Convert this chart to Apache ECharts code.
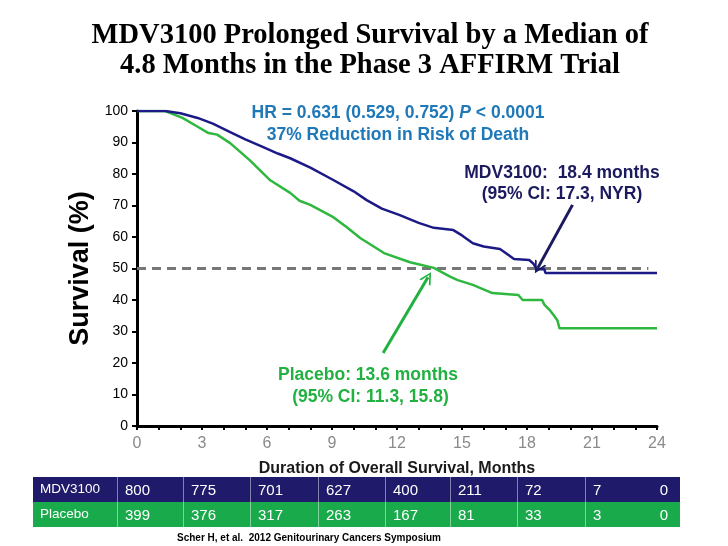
<!DOCTYPE html>
<html><head><meta charset="utf-8">
<script src="https://cdn.jsdelivr.net/npm/echarts@6/dist/echarts.min.js"></script>
<style>html,body{margin:0;padding:0;background:#fff}#c{width:728px;height:546px}</style>
</head><body><div id="c"></div>
<script>
// ---- DATA ----
const mdvCurve = [[0,100],[1.3,100],[2.0,99.3],[2.8,97.8],[3.5,96],[4.3,93.3],[5.0,91],[5.8,88.6],[6.5,86.5],[7.07,85],[8.0,82],[9.06,78.1],[10.0,74.5],[10.6,71.7],[11.3,69],[12.1,67],[13.0,64.5],[13.7,62.9],[14.6,62.2],[15.0,60.5],[15.5,58],[16.0,57],[16.75,56.2],[17.0,55],[17.4,53],[18.1,52.7],[18.3,51.5],[18.45,49.8],[18.8,49.8],[18.85,48.6],[24,48.6]];
const placeboCurve = [[0,100],[1.3,100],[2.1,97.8],[2.8,95],[3.3,93],[3.7,92.5],[4.3,89.8],[5.2,84.4],[6.15,78],[7.07,74],[7.5,71.5],[8.0,70.2],[9.06,66.3],[9.7,63],[10.3,59.7],[11.4,54.9],[12.6,52],[13.7,50.2],[14.45,47.4],[14.8,46.3],[15.5,44.8],[16.4,42.2],[17.6,41.6],[17.8,40],[18.7,40],[18.8,38.5],[19.05,36.8],[19.25,35],[19.4,33.6],[19.5,31],[24,31]];
const medianLevel = 50;
const medianLineEnd = 23.6;
const mdvArrow = [[20.1,70.2],[18.5,50.2]];
const placeboArrow = [[11.36,23.2],[13.43,47.2]];
const riskRowNames = ['MDV3100','Placebo'];
const mdvAtRisk = [800,775,701,627,400,211,72,7,0];
const placeboAtRisk = [399,376,317,263,167,81,33,3,0];
const xTicks = [0,3,6,9,12,15,18,21,24];
const yTicks = [0,10,20,30,40,50,60,70,80,90,100];

// ---- LAYOUT ----
const C_MDV = '#1c1a86', C_PLA = '#2eb83f';
const tableCols = [33,117,183,250,318,385,450,517,585,680];
const tableRows = [477,502,527];
const rowColors = ['#1f1a69','#19ab4b'];

const chart = echarts.init(document.getElementById('c'));
const graphic = [];
graphic.push({type:'text', x:370, y:21, style:{text:'MDV3100 Prolonged Survival by a Median of\n4.8 Months in the Phase 3 AFFIRM Trial', font:'bold 28.5px "Liberation Serif"', fill:'#000', textAlign:'center', lineHeight:30}});
graphic.push({type:'text', x:398, y:102, style:{text:'{a|HR = 0.631 (0.529, 0.752) }{i|P}{a| < 0.0001}\n{a|37% Reduction in Risk of Death}', textAlign:'center', rich:{a:{font:'bold 17.5px Arial', fill:'#1f78b8', lineHeight:22}, i:{font:'italic bold 17.5px Arial', fill:'#1f78b8', lineHeight:22}}}});
graphic.push({type:'text', x:562, y:163, style:{text:'MDV3100:  18.4 months\n(95% CI: 17.3, NYR)', font:'bold 17.5px Arial', fill:'#1c1a5e', textAlign:'center', lineHeight:21}});
graphic.push({type:'text', x:368, y:364, style:{text:'Placebo: 13.6 months\n (95% CI: 11.3, 15.8)', font:'bold 17.5px Arial', fill:'#22b140', textAlign:'center', lineHeight:22}});
// table
for (let r=0;r<2;r++){
  graphic.push({type:'rect', shape:{x:tableCols[0], y:tableRows[r], width:tableCols[tableCols.length-1]-tableCols[0], height:tableRows[r+1]-tableRows[r]}, style:{fill:rowColors[r]}});
}
for (let c=1;c<tableCols.length-1;c++){
  graphic.push({type:'line', shape:{x1:tableCols[c]+0.5, y1:tableRows[0], x2:tableCols[c]+0.5, y2:tableRows[2]}, style:{stroke:'rgba(255,255,255,0.45)', lineWidth:1}});
}
const rowsData = [mdvAtRisk, placeboAtRisk];
for (let r=0;r<2;r++){
  const cy = (tableRows[r]+tableRows[r+1])/2;
  graphic.push({type:'text', x:tableCols[0]+7, y:cy, style:{text:riskRowNames[r], font:'13.5px Arial', fill:'#fff', textVerticalAlign:'middle'}});
  rowsData[r].forEach((v,i)=>{
    const last = i===rowsData[r].length-1;
    graphic.push({type:'text', x: last ? tableCols[tableCols.length-1]-12 : tableCols[i+1]+8, y:cy+1, style:{text:String(v), font:'15px Arial', fill:'#fff', textVerticalAlign:'middle', textAlign: last?'right':'left'}});
  });
}
graphic.push({type:'text', x:177, y:533, style:{text:'Scher H, et al.  2012 Genitourinary Cancers Symposium', font:'bold 10px Arial', fill:'#000'}});

const chevron = 'path://M10,0 L20,14 L17,14 L10,4 L3,14 L0,14 Z';

chart.setOption({
  animation:false,
  grid:{left:137, right:71, top:111, bottom:120},
  xAxis:{type:'value', min:0, max:24, interval:3,
    axisLine:{lineStyle:{color:'#000', width:3}},
    axisTick:{show:true, length:4, lineStyle:{color:'#000', width:2}},
    minorTick:{show:true, splitNumber:3, length:4, lineStyle:{color:'#000', width:2}},
    splitLine:{show:false},
    axisLabel:{color:'#8a8a8a', fontSize:16, fontFamily:'Arial', margin:10, formatter:v=>xTicks.includes(v)?String(v):''},
    name:'Duration of Overall Survival, Months', nameLocation:'middle', nameGap:35,
    nameTextStyle:{fontWeight:'bold', fontSize:16, color:'#1a1a1a', fontFamily:'Arial'}
  },
  yAxis:{type:'value', min:0, max:100, interval:10,
    axisLine:{show:true, lineStyle:{color:'#000', width:3}},
    axisTick:{show:true, length:5, lineStyle:{color:'#000', width:2}},
    splitLine:{show:false},
    axisLabel:{color:'#000', fontSize:14, fontFamily:'Arial', margin:9, formatter:v=>yTicks.includes(v)?String(v):''},
    name:'Survival (%)', nameLocation:'middle', nameGap:41,
    nameTextStyle:{fontWeight:'bold', fontSize:27, color:'#000', fontFamily:'Arial'}
  },
  graphic: graphic,
  series:[
    {type:'line', data:placeboCurve, showSymbol:false, symbol:'none', lineStyle:{color:C_PLA, width:2.5}, z:3},
    {type:'line', data:mdvCurve, showSymbol:false, symbol:'none', lineStyle:{color:C_MDV, width:2.5}, z:4,
      markLine:{silent:true, symbol:['none','none'], label:{show:false}, z:2,
        lineStyle:{color:'#777', type:[9,6], width:3},
        data:[[{coord:[0,medianLevel]},{coord:[medianLineEnd,medianLevel]}]]}},
    {type:'line', data:[], markLine:{silent:true, symbol:['none',chevron], symbolSize:[13,12], label:{show:false},
        data:[
          [{coord:mdvArrow[0], lineStyle:{color:'#1c1a5e', width:3, type:'solid'}},{coord:mdvArrow[1], itemStyle:{color:'#1c1a5e'}}],
          [{coord:placeboArrow[0], lineStyle:{color:'#22b140', width:3, type:'solid'}},{coord:placeboArrow[1], itemStyle:{color:'#22b140'}}]
        ]}}
  ]
});
</script></body></html>
